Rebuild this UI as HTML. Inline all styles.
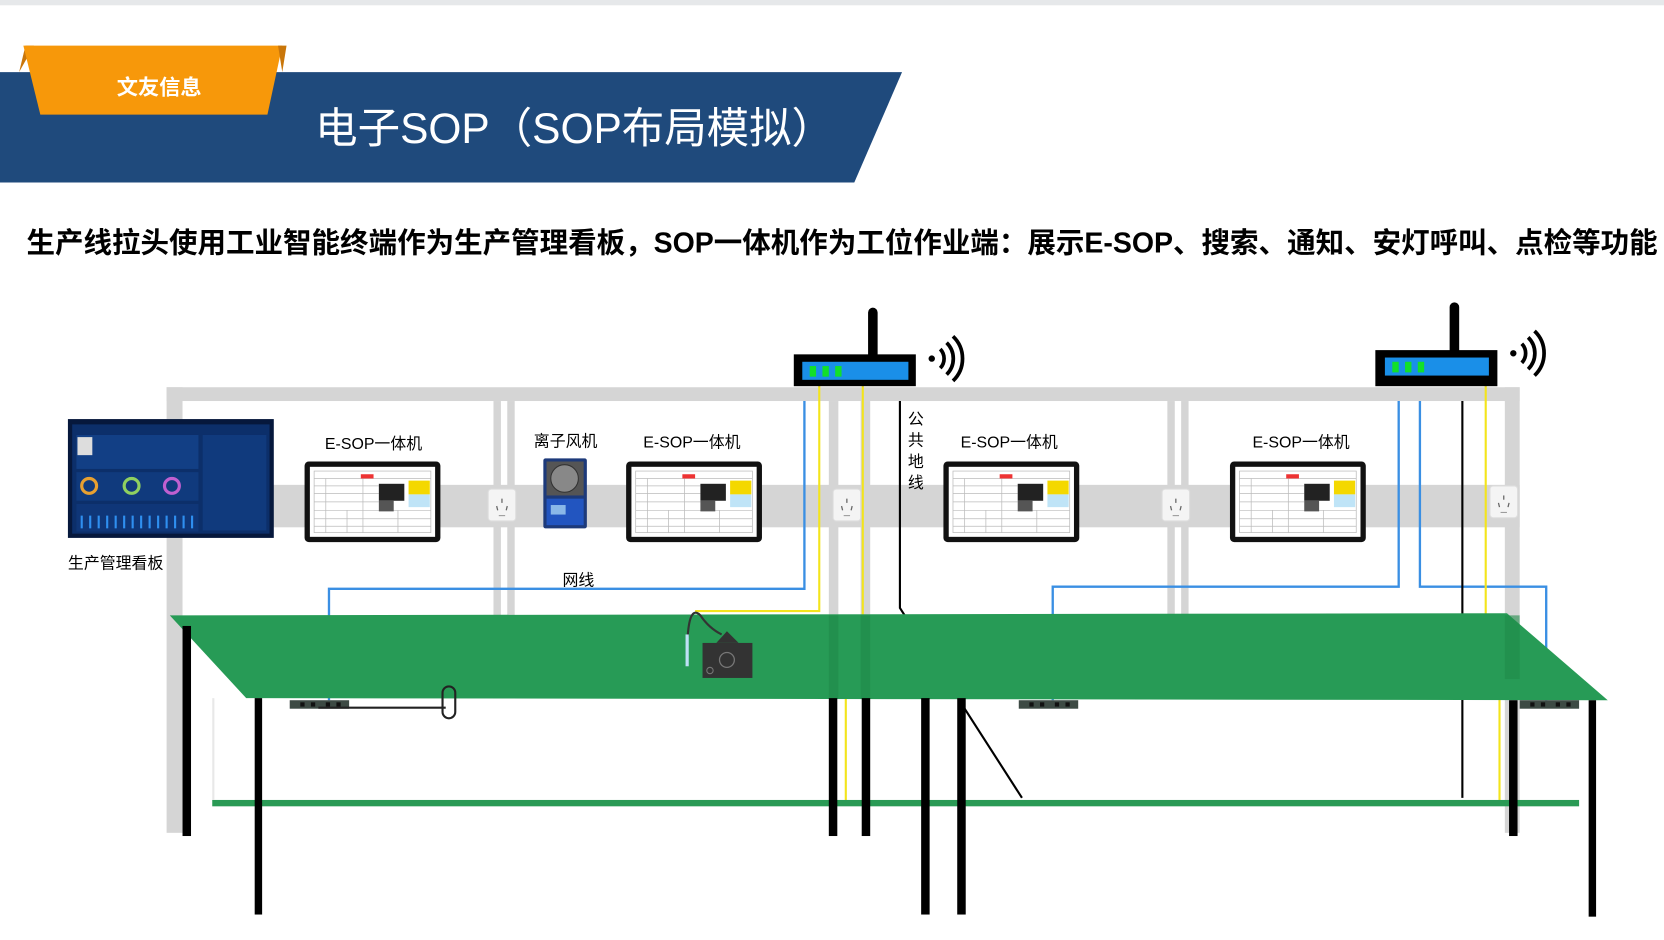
<!DOCTYPE html>
<html><head><meta charset="utf-8"><style>
html,body{margin:0;padding:0;background:#fff;width:1664px;height:940px;overflow:hidden}
svg{display:block}
text{font-family:"Liberation Sans","Noto Sans CJK SC",sans-serif}
</style></head><body>
<svg width="1664" height="940" viewBox="0 0 1568 886" preserveAspectRatio="none" xmlns="http://www.w3.org/2000/svg">
<defs>
<g id="mon">
<rect x="0" y="0" width="128" height="76" rx="4" fill="#111"/>
<rect x="5" y="5" width="118" height="66" fill="#fff"/>
<g stroke="#bbb" stroke-width="0.7" fill="none">
<rect x="9" y="9" width="110" height="58"/>
<line x1="9" y1="16" x2="119" y2="16"/><line x1="9" y1="23" x2="70" y2="23"/>
<line x1="9" y1="30" x2="70" y2="30"/><line x1="9" y1="38" x2="70" y2="38"/>
<line x1="9" y1="46" x2="119" y2="46"/><line x1="9" y1="54" x2="119" y2="54"/>
<line x1="9" y1="61" x2="119" y2="61"/>
<line x1="20" y1="16" x2="20" y2="67"/><line x1="40" y1="46" x2="40" y2="67"/>
<line x1="55" y1="16" x2="55" y2="67"/><line x1="88" y1="46" x2="88" y2="67"/>
</g>
<rect x="53" y="12" width="12" height="4" fill="#e33"/>
<rect x="70" y="21" width="24" height="16" fill="#222"/>
<rect x="70" y="37" width="14" height="10" fill="#555"/>
<rect x="98" y="18" width="20" height="13" fill="#f4d800"/>
<rect x="98" y="31" width="20" height="12" fill="#bfe4f7"/>
</g>
<g id="outlet">
<rect x="0" y="0" width="26" height="30" rx="3" fill="#f4f4f4" stroke="#ddd"/>
<line x1="13" y1="9" x2="13" y2="13" stroke="#666" stroke-width="1.2"/>
<line x1="8" y1="16" x2="9" y2="20" stroke="#666" stroke-width="1.2"/>
<line x1="18" y1="16" x2="17" y2="20" stroke="#666" stroke-width="1.2"/>
<line x1="10" y1="25" x2="16" y2="25" stroke="#999" stroke-width="1"/>
</g>
<g id="waves" fill="none" stroke="#000" stroke-width="3.5">
<circle cx="0" cy="0" r="3" fill="#000" stroke="none"/>
<path d="M8,-9 A13,13 0 0 1 8,9"/>
<path d="M14,-15 A21,21 0 0 1 14,15"/>
<path d="M20,-21 A29,29 0 0 1 20,21"/>
</g>
<g id="strip">
<rect x="0" y="0" width="56" height="8" fill="#3d4a44"/>
<rect x="10" y="2" width="4" height="4" fill="#111"/><rect x="20" y="2" width="4" height="4" fill="#111"/>
<rect x="34" y="2" width="4" height="4" fill="#111"/><rect x="44" y="2" width="4" height="4" fill="#111"/>
</g>
</defs>

<rect x="0" y="0" width="1568" height="5" fill="#e6e8ea"/>
<polygon points="0,68 850,68 805,172 0,172" fill="#1f4a7c"/>
<polygon points="18,68 24,43 32,43" fill="#c9760a"/>
<polygon points="22,43 266,43 252,108 38,108" fill="#f7980a"/>
<polygon points="262,43 270,43 266,68" fill="#c9760a"/>
<text x="150" y="89" font-size="20" font-weight="bold" fill="#fff" text-anchor="middle">文友信息</text>
<text x="297" y="135" font-size="40" fill="#fff">电子SOP（SOP布局模拟）</text>
<text x="25" y="238" font-size="27" font-weight="bold" fill="#000" textLength="1537" lengthAdjust="spacingAndGlyphs">生产线拉头使用工业智能终端作为生产管理看板，SOP一体机作为工位作业端：展示E-SOP、搜索、通知、安灯呼叫、点检等功能</text>

<g fill="#d5d5d5">
<rect x="157" y="365" width="1275" height="13"/>
<rect x="157" y="365" width="15" height="420"/>
<rect x="1418" y="365" width="14" height="420"/>
<rect x="465" y="378" width="7" height="202"/><rect x="478" y="378" width="7" height="202"/>
<rect x="781" y="378" width="9" height="202"/><rect x="811" y="378" width="9" height="202"/>
<rect x="1100" y="378" width="7" height="202"/><rect x="1113" y="378" width="7" height="202"/>
<rect x="172" y="457" width="1260" height="40"/>
</g>
<use href="#outlet" x="460" y="461"/>
<use href="#outlet" x="785" y="461"/>
<use href="#outlet" x="1095" y="461"/>
<use href="#outlet" x="1404" y="458"/>

<g fill="none" stroke="#3a8fe3" stroke-width="2.2">
<polyline points="758,378 758,555 310,555 310,660"/>
<polyline points="1318,378 1318,553 992,553 992,660"/>
<polyline points="1338,378 1338,553 1457,553 1457,660"/>
</g>
<g fill="none" stroke="#f3e41c" stroke-width="2">
<polyline points="772,364 772,576 655,576"/>
<polyline points="813,364 813,581 780,604 784,604"/>
<polyline points="782,590 797,605 797,754"/>
<polyline points="1400,364 1400,580 1432,592"/>
<polyline points="1413,580 1413,754"/>
</g>
<g fill="none" stroke="#000" stroke-width="2">
<polyline points="848,378 848,573 963,752"/>
<line x1="1378" y1="378" x2="1378" y2="752"/>
</g>

<polygon points="160,580 1420,578 1515,660 232,658" fill="#279b56"/>
<g fill="#1f8a49" opacity="0.6">
<rect x="781" y="580" width="9" height="78"/><rect x="811" y="580" width="9" height="78"/>
<rect x="1418" y="580" width="14" height="60"/>
</g>
<rect x="200" y="754" width="1288" height="6" fill="#2a9a55"/>
<line x1="201" y1="658" x2="201" y2="754" stroke="#e8e8e8" stroke-width="2"/>
<g fill="#000">
<rect x="172" y="590" width="8" height="198"/>
<rect x="240" y="658" width="7" height="204"/>
<rect x="781" y="658" width="8" height="130"/>
<rect x="812" y="658" width="8" height="130"/>
<rect x="868" y="658" width="8" height="204"/>
<rect x="902" y="658" width="8" height="204"/>
<rect x="1422" y="660" width="8" height="128"/>
<rect x="1497" y="660" width="7" height="204"/>
</g>
<use href="#strip" x="273" y="660"/>
<use href="#strip" x="960" y="660"/>
<use href="#strip" x="1432" y="660"/>
<path d="M300,667 L420,667" stroke="#222" stroke-width="2"/>
<rect x="417" y="647" width="12" height="30" rx="6" fill="none" stroke="#222" stroke-width="2"/>
<path d="M648,600 Q650,570 660,580 Q668,592 680,598" fill="none" stroke="#333" stroke-width="2"/>
<rect x="646" y="598" width="3" height="30" fill="#bde0f5"/>
<rect x="662" y="606" width="47" height="33" fill="#333"/>
<polygon points="675,606 685,595 696,606" fill="#333"/>
<circle cx="685" cy="622" r="7" fill="none" stroke="#777" stroke-width="1.2"/>
<circle cx="669" cy="632" r="3" fill="none" stroke="#777" stroke-width="1"/>

<rect x="64" y="395" width="194" height="112" fill="#06183c"/>
<rect x="68" y="400" width="186" height="103" fill="#0c2f6a"/>
<rect x="72" y="410" width="115" height="32" fill="#123f85"/>
<rect x="72" y="445" width="115" height="27" fill="#103a7d"/>
<rect x="72" y="475" width="115" height="26" fill="#0f3678"/>
<rect x="191" y="410" width="60" height="90" fill="#103a7d"/>
<rect x="73" y="412" width="14" height="17" fill="#ddd"/>
<circle cx="84" cy="458" r="7" fill="none" stroke="#e8a030" stroke-width="3"/>
<circle cx="124" cy="458" r="7" fill="none" stroke="#8fd060" stroke-width="3"/>
<circle cx="162" cy="458" r="7" fill="none" stroke="#c060d0" stroke-width="3"/>
<g fill="#2f8ff0"><rect x="76" y="486" width="2" height="12"/><rect x="84" y="486" width="2" height="12"/><rect x="92" y="486" width="2" height="12"/><rect x="100" y="486" width="2" height="12"/><rect x="108" y="486" width="2" height="12"/><rect x="116" y="486" width="2" height="12"/><rect x="124" y="486" width="2" height="12"/><rect x="132" y="486" width="2" height="12"/><rect x="140" y="486" width="2" height="12"/><rect x="148" y="486" width="2" height="12"/><rect x="156" y="486" width="2" height="12"/><rect x="164" y="486" width="2" height="12"/><rect x="172" y="486" width="2" height="12"/><rect x="180" y="486" width="2" height="12"/></g>
<text x="64" y="536" font-size="15" fill="#000">生产管理看板</text>

<use href="#mon" x="287" y="435"/>
<use href="#mon" x="590" y="435"/>
<use href="#mon" x="889" y="435"/>
<use href="#mon" x="1159" y="435"/>
<g font-size="15" fill="#000" text-anchor="middle">
<text x="352" y="423">E-SOP一体机</text>
<text x="652" y="422">E-SOP一体机</text>
<text x="951" y="422">E-SOP一体机</text>
<text x="1226" y="422">E-SOP一体机</text>
<text x="533" y="421">离子风机</text>
<text x="545" y="552">网线</text>
<text x="863" y="400">公</text>
<text x="863" y="420">共</text>
<text x="863" y="440">地</text>
<text x="863" y="460">线</text>
</g>

<rect x="512" y="432" width="41" height="66" rx="2" fill="#1d3a7a"/>
<rect x="515" y="435" width="35" height="32" fill="#555"/>
<circle cx="532" cy="451" r="13" fill="#888" stroke="#333" stroke-width="1"/>
<rect x="515" y="470" width="35" height="25" fill="#2255c0"/>
<rect x="519" y="476" width="14" height="9" fill="#8ab8e8"/>

<rect x="818" y="290" width="9" height="50" rx="4.5" fill="#000"/>
<rect x="748" y="334" width="115" height="30" fill="#000"/>
<rect x="756" y="341" width="100" height="17" fill="#1a8fe8"/>
<rect x="763" y="345" width="6" height="10" fill="#12e02a"/><rect x="775" y="345" width="6" height="10" fill="#12e02a"/><rect x="787" y="345" width="6" height="10" fill="#12e02a"/>
<use href="#waves" x="878" y="338"/>
<rect x="1366" y="285" width="9" height="50" rx="4.5" fill="#000"/>
<rect x="1296" y="330" width="115" height="34" fill="#000"/>
<rect x="1305" y="337" width="98" height="17" fill="#1a8fe8"/>
<rect x="1312" y="341" width="6" height="10" fill="#12e02a"/><rect x="1324" y="341" width="6" height="10" fill="#12e02a"/><rect x="1336" y="341" width="6" height="10" fill="#12e02a"/>
<use href="#waves" x="1426" y="333"/>
</svg>
</body></html>
